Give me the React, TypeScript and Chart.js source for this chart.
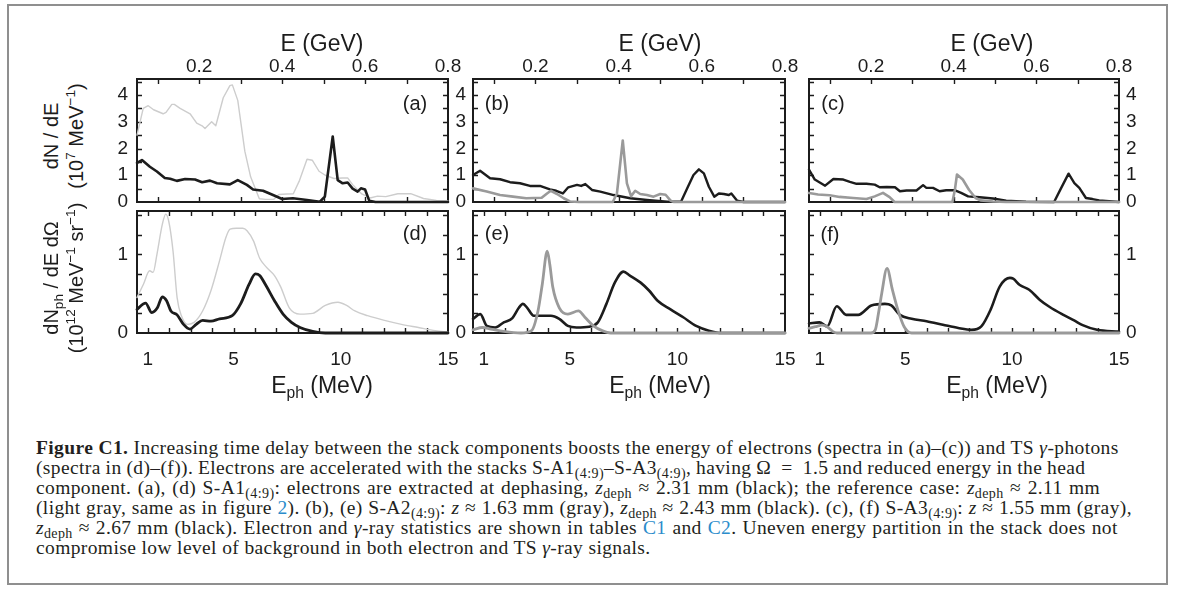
import React, { useEffect, useRef } from "react";
import { Chart, registerables } from "chart.js";
Chart.register(...registerables);

// ---------- tick values / labels ----------
const GEV_TICKS = [0.1, 0.2, 0.3, 0.4, 0.5, 0.6, 0.7, 0.8];
const GEV_LABELS = ["", "0.2", "", "0.4", "", "0.6", "", "0.8"];
const DNDE_TICKS = [0, 0.5, 1, 1.5, 2, 2.5, 3, 3.5, 4, 4.5];
const DNDE_LABELS = ["0", "", "1", "", "2", "", "3", "", "4", ""];
const MEV_TICKS = [1, 2, 3, 4, 5, 6, 7, 8, 9, 10, 11, 12, 13, 14, 15];
const MEV_LABELS = ["1", "", "", "", "5", "", "", "", "", "10", "", "", "", "", "15"];
const PH_TICKS = [0, 0.25, 0.5, 0.75, 1, 1.25, 1.5];
const PH_LABELS = ["0", "", "", "", "1", "", ""];

// ---------- (a) electrons, S-A1 ----------
const aRefE = [0.05, 0.065, 0.077, 0.09, 0.113, 0.12, 0.134, 0.14, 0.154, 0.178, 0.194, 0.207, 0.214, 0.23, 0.24, 0.258, 0.274, 0.28, 0.293, 0.31, 0.324, 0.345, 0.36, 0.38, 0.392, 0.411, 0.427, 0.442, 0.46, 0.473, 0.489, 0.504, 0.525, 0.545, 0.558, 0.57, 0.592, 0.612, 0.63, 0.65, 0.679, 0.71, 0.741, 0.772, 0.8];
const aRefN = [2.5, 3.5, 3.6, 3.45, 3.3, 3.35, 3.65, 3.65, 3.5, 3.3, 2.95, 2.85, 2.75, 3.0, 2.85, 3.9, 4.35, 4.38, 3.8, 1.9, 0.94, 0.12, 0.1, 0.1, 0.28, 0.3, 0.31, 0.81, 1.6, 1.56, 1.15, 1.0, 0.88, 0.9, 0.9, 0.65, 0.3, 0.15, 0.22, 0.2, 0.31, 0.31, 0.13, 0.06, 0.04];
const aBlackE = [0.05, 0.062, 0.081, 0.098, 0.117, 0.13, 0.146, 0.166, 0.19, 0.207, 0.226, 0.243, 0.274, 0.293, 0.315, 0.33, 0.354, 0.378, 0.4, 0.426, 0.46, 0.491, 0.503, 0.522, 0.534, 0.546, 0.558, 0.57, 0.582, 0.59, 0.6, 0.61, 0.625, 0.8];
const aBlackN = [1.46, 1.57, 1.32, 1.14, 0.9, 0.87, 0.79, 0.86, 0.84, 0.74, 0.8, 0.7, 0.66, 0.82, 0.64, 0.47, 0.42, 0.26, 0.11, 0.14, 0.075, 0.01, 0.2, 2.45, 0.82, 0.7, 0.73, 0.5, 0.39, 0.51, 0.47, 0.05, 0, 0];

// ---------- (b) electrons, S-A2 ----------
const bBlackE = [0.05, 0.067, 0.091, 0.115, 0.139, 0.163, 0.187, 0.211, 0.235, 0.25, 0.266, 0.279, 0.3, 0.31, 0.32, 0.336, 0.356, 0.388, 0.428, 0.468, 0.517, 0.55, 0.565, 0.58, 0.593, 0.605, 0.617, 0.63, 0.641, 0.653, 0.665, 0.671, 0.685, 0.7, 0.8];
const bBlackN = [1.01, 1.17, 0.89, 0.85, 0.74, 0.7, 0.6, 0.6, 0.47, 0.42, 0.32, 0.55, 0.64, 0.6, 0.67, 0.45, 0.39, 0.26, 0.14, 0.075, 0.01, 0.01, 0.51, 1.01, 1.22, 1.07, 0.57, 0.2, 0.32, 0.3, 0.26, 0.32, 0.05, 0, 0];
const bGrayE = [0.05, 0.083, 0.115, 0.146, 0.178, 0.215, 0.228, 0.237, 0.252, 0.268, 0.283, 0.305, 0.386, 0.396, 0.41, 0.42, 0.43, 0.44, 0.452, 0.468, 0.484, 0.5, 0.513, 0.525, 0.533, 0.8];
const bGrayN = [0.51, 0.39, 0.26, 0.2, 0.14, 0.16, 0.32, 0.42, 0.3, 0.14, 0.02, 0, 0, 0.32, 2.3, 0.7, 0.22, 0.42, 0.3, 0.26, 0.2, 0.3, 0.27, 0.05, 0, 0];

// ---------- (c) electrons, S-A3 ----------
const cBlackE = [0.05, 0.064, 0.089, 0.109, 0.133, 0.149, 0.165, 0.189, 0.209, 0.221, 0.238, 0.258, 0.27, 0.286, 0.31, 0.326, 0.334, 0.35, 0.366, 0.382, 0.402, 0.418, 0.435, 0.463, 0.495, 0.527, 0.575, 0.643, 0.659, 0.678, 0.692, 0.704, 0.72, 0.736, 0.752, 0.776, 0.8];
const cBlackN = [1.21, 0.84, 0.61, 0.86, 0.84, 0.75, 0.68, 0.68, 0.65, 0.55, 0.56, 0.55, 0.4, 0.43, 0.43, 0.63, 0.53, 0.53, 0.4, 0.44, 0.44, 0.34, 0.21, 0.18, 0.13, 0.05, 0.01, 0, 0.49, 1.06, 0.71, 0.53, 0.15, 0.11, 0.06, 0.03, 0];
const cGrayE = [0.05, 0.072, 0.1, 0.124, 0.157, 0.189, 0.209, 0.229, 0.245, 0.257, 0.397, 0.403, 0.408, 0.422, 0.437, 0.453, 0.465, 0.495, 0.527, 0.8];
const cGrayN = [0.34, 0.28, 0.25, 0.19, 0.15, 0.11, 0.21, 0.34, 0.18, 0, 0, 0.46, 1.03, 0.84, 0.46, 0.15, 0.06, 0.02, 0, 0];

// ---------- (d) photons, S-A1 ----------
const dRefX = [0.5, 0.8, 1.09, 1.25, 1.43, 1.68, 1.84, 1.98, 2.18, 2.37, 2.57, 2.87, 3.16, 3.56, 3.95, 4.35, 4.64, 4.84, 5.14, 5.43, 5.63, 5.93, 6.22, 6.52, 6.91, 7.21, 7.6, 8.1, 8.69, 9.28, 9.87, 10.27, 10.66, 11.25, 12.04, 12.83, 13.62, 14.41, 15];
const dRefY = [0.45, 0.62, 0.79, 0.77, 1.0, 1.38, 1.51, 1.42, 1.04, 0.45, 0.22, 0.11, 0.135, 0.28, 0.54, 0.92, 1.21, 1.32, 1.33, 1.33, 1.3, 1.17, 0.95, 0.84, 0.73, 0.58, 0.32, 0.24, 0.25, 0.35, 0.39, 0.35, 0.28, 0.22, 0.16, 0.11, 0.07, 0.03, 0.01];
const dBlackX = [0.5, 0.9, 1.19, 1.45, 1.68, 1.88, 2.08, 2.37, 2.67, 2.97, 3.26, 3.56, 3.95, 4.35, 4.94, 5.33, 5.73, 6.02, 6.22, 6.52, 6.91, 7.31, 7.7, 8.1, 8.69, 9.28, 15];
const dBlackY = [0.3, 0.38, 0.26, 0.32, 0.46, 0.41, 0.28, 0.23, 0.11, 0.05, 0.11, 0.16, 0.15, 0.18, 0.22, 0.37, 0.62, 0.75, 0.73, 0.6, 0.41, 0.24, 0.135, 0.07, 0.02, 0, 0];

// ---------- (e) photons, S-A2 ----------
const eBlackX = [0.5, 0.84, 1.14, 1.53, 1.93, 2.33, 2.63, 2.82, 3.02, 3.32, 3.72, 4.12, 4.51, 4.91, 5.31, 5.9, 6.3, 6.7, 7.09, 7.49, 7.79, 8.29, 8.68, 9.08, 9.68, 10.27, 10.87, 11.46, 12.06, 15];
const eBlackY = [0.18, 0.24, 0.09, 0.07, 0.135, 0.19, 0.32, 0.37, 0.32, 0.22, 0.22, 0.22, 0.18, 0.09, 0.07, 0.08, 0.135, 0.37, 0.64, 0.78, 0.73, 0.64, 0.54, 0.41, 0.3, 0.2, 0.09, 0.03, 0, 0];
const eGrayX = [0.5, 0.94, 1.33, 1.93, 2.73, 3.22, 3.52, 3.72, 3.95, 4.07, 4.21, 4.51, 4.91, 5.4, 5.7, 6.1, 6.5, 6.9, 15];
const eGrayY = [0.04, 0.07, 0.05, 0.02, 0, 0.03, 0.28, 0.62, 1.04, 0.87, 0.58, 0.32, 0.24, 0.28, 0.2, 0.09, 0.03, 0, 0];

// ---------- (f) photons, S-A3 ----------
const fBlackX = [0.5, 0.99, 1.35, 1.8, 2.24, 2.8, 3.42, 4.05, 4.35, 4.75, 5.3, 6.0, 6.76, 7.48, 8.1, 8.56, 9.0, 9.42, 9.9, 10.05, 10.36, 10.8, 11.3, 11.76, 12.4, 12.9, 13.3, 13.97, 15];
const fBlackY = [0.12, 0.135, 0.084, 0.34, 0.23, 0.23, 0.35, 0.37, 0.35, 0.23, 0.18, 0.15, 0.105, 0.063, 0.04, 0.084, 0.3, 0.59, 0.7, 0.69, 0.61, 0.55, 0.42, 0.33, 0.23, 0.16, 0.1, 0.04, 0.017];
const fGrayX = [0.5, 0.8, 1.1, 1.35, 1.6, 1.8, 3.4, 3.6, 3.75, 3.9, 4.15, 4.4, 4.66, 4.95, 5.3, 15];
const fGrayY = [0.06, 0.08, 0.1, 0.08, 0.02, 0, 0, 0.04, 0.25, 0.5, 0.82, 0.55, 0.29, 0.08, 0, 0];

const BLACK = "#1c1c1c";
const GRAY = "#9a9a9a";
const LIGHT = "#cdcdcd";
const SANS = "'Liberation Sans', Arial, sans-serif";
const SERIF = "'Liberation Serif', 'Times New Roman', serif";
const M = 40;

type Series = { x: number[]; y: number[]; color: string; width: number; order: number };
type PanelCfg = {
  key: string; left: number; top: number; width: number; height: number;
  xMin: number; xMax: number; yMax: number;
  xPos: "top" | "bottom"; yPos: "left" | "right";
  xTicks: number[]; xLabels: string[]; yTicks: number[]; yLabels: string[];
  xPad: number; yPad: number; smooth: boolean; series: Series[];
};

const COLS = [[137, 311], [473, 312], [809, 310]];
const ROW_TOP = [79, 123];
const ROW_BOT = [211, 122];

function topPanel(col: number, yPos: "left" | "right", yPad: number, series: Series[], key: string): PanelCfg {
  return {
    key, left: COLS[col][0], top: ROW_TOP[0], width: COLS[col][1], height: ROW_TOP[1],
    xMin: 0.05, xMax: 0.8, yMax: 4.6, xPos: "top", yPos,
    xTicks: GEV_TICKS, xLabels: GEV_LABELS, yTicks: DNDE_TICKS, yLabels: DNDE_LABELS,
    xPad: 1, yPad, smooth: false, series,
  };
}
function botPanel(col: number, yPos: "left" | "right", yPad: number, series: Series[], key: string): PanelCfg {
  return {
    key, left: COLS[col][0], top: ROW_BOT[0], width: COLS[col][1], height: ROW_BOT[1],
    xMin: 0.5, xMax: 15, yMax: 1.55, xPos: "bottom", yPos,
    xTicks: MEV_TICKS, xLabels: MEV_LABELS, yTicks: PH_TICKS, yLabels: PH_LABELS,
    xPad: 15, yPad, smooth: true, series,
  };
}

const PANELS: PanelCfg[] = [
  topPanel(0, "left", 9, [
    { x: aBlackE, y: aBlackN, color: BLACK, width: 2.6, order: 0 },
    { x: aRefE, y: aRefN, color: LIGHT, width: 1.4, order: 1 },
  ], "a"),
  topPanel(1, "left", 7, [
    { x: bBlackE, y: bBlackN, color: BLACK, width: 2.4, order: 1 },
    { x: bGrayE, y: bGrayN, color: GRAY, width: 2.6, order: 0 },
  ], "b"),
  topPanel(2, "right", 7, [
    { x: cBlackE, y: cBlackN, color: BLACK, width: 2.4, order: 1 },
    { x: cGrayE, y: cGrayN, color: GRAY, width: 2.6, order: 0 },
  ], "c"),
  botPanel(0, "left", 9, [
    { x: dBlackX, y: dBlackY, color: BLACK, width: 2.8, order: 0 },
    { x: dRefX, y: dRefY, color: LIGHT, width: 1.4, order: 1 },
  ], "d"),
  botPanel(1, "left", 7, [
    { x: eBlackX, y: eBlackY, color: BLACK, width: 2.6, order: 1 },
    { x: eGrayX, y: eGrayY, color: GRAY, width: 2.8, order: 0 },
  ], "e"),
  botPanel(2, "right", 7, [
    { x: fBlackX, y: fBlackY, color: BLACK, width: 2.6, order: 1 },
    { x: fGrayX, y: fGrayY, color: GRAY, width: 2.8, order: 0 },
  ], "f"),
];

const framePlugin = {
  id: "frameTicks",
  beforeDatasetsDraw(chart: any) {
    const { ctx, chartArea: a, scales } = chart;
    const tl = 5;
    ctx.save();
    ctx.strokeStyle = BLACK;
    ctx.lineWidth = 1.4;
    ctx.beginPath();
    for (const t of scales.x.ticks) {
      const px = Math.round(scales.x.getPixelForValue(t.value)) + 0.5;
      if (px <= a.left + 2 || px >= a.right - 2) continue;
      ctx.moveTo(px, a.top); ctx.lineTo(px, a.top + tl);
      ctx.moveTo(px, a.bottom); ctx.lineTo(px, a.bottom - tl);
    }
    for (const t of scales.y.ticks) {
      const py = Math.round(scales.y.getPixelForValue(t.value)) + 0.5;
      if (py <= a.top + 2 || py >= a.bottom - 2) continue;
      ctx.moveTo(a.left, py); ctx.lineTo(a.left + tl, py);
      ctx.moveTo(a.right, py); ctx.lineTo(a.right - tl, py);
    }
    ctx.stroke();
    ctx.lineWidth = 2;
    ctx.strokeRect(a.left, a.top, a.right - a.left, a.bottom - a.top);
    ctx.restore();
  },
};

function labeler(ticks: number[], labels: string[]) {
  return (v: number) => {
    const i = ticks.findIndex((t) => Math.abs(t - v) < 1e-6);
    return i >= 0 ? labels[i] : "";
  };
}

function fixSize(kind: "h" | "w") {
  return (s: any) => {
    if (kind === "h") s.height = M; else s.width = M;
    s.paddingLeft = 0; s.paddingRight = 0; s.paddingTop = 0; s.paddingBottom = 0;
  };
}

function Panel({ cfg }: { cfg: PanelCfg }) {
  const ref = useRef<HTMLCanvasElement | null>(null);
  useEffect(() => {
    if (!ref.current) return;
    const xl = labeler(cfg.xTicks, cfg.xLabels);
    const yl = labeler(cfg.yTicks, cfg.yLabels);
    const tickFont = { family: SANS, size: 19 };
    const chart = new Chart(ref.current, {
      type: "line",
      data: {
        datasets: cfg.series.map((s) => ({
          data: s.x.map((v, i) => ({ x: v, y: s.y[i] })),
          borderColor: s.color,
          borderWidth: s.width,
          pointRadius: 0,
          fill: false,
          order: s.order,
          clip: false as any,
          tension: cfg.smooth ? 0.4 : 0,
          cubicInterpolationMode: cfg.smooth ? "monotone" : "default",
          borderJoinStyle: "round",
          borderCapStyle: "round",
        })) as any,
      },
      options: {
        animation: false,
        responsive: false,
        devicePixelRatio: 1,
        events: [],
        layout: {
          padding: {
            left: cfg.yPos === "left" ? 0 : M,
            right: cfg.yPos === "right" ? 0 : M,
            top: cfg.xPos === "top" ? 0 : M,
            bottom: cfg.xPos === "bottom" ? 0 : M,
          },
        },
        plugins: { legend: { display: false }, tooltip: { enabled: false } },
        scales: {
          x: {
            type: "linear", position: cfg.xPos, min: cfg.xMin, max: cfg.xMax, bounds: "data",
            grid: { display: false, drawTicks: false, tickLength: 0 }, border: { display: false },
            afterBuildTicks: (s: any) => { s.ticks = cfg.xTicks.map((v) => ({ value: v })); },
            afterFit: fixSize("h"),
            ticks: {
              autoSkip: false, maxRotation: 0, minRotation: 0, padding: cfg.xPad,
              color: BLACK, font: tickFont, callback: (v: any) => xl(Number(v)),
            },
          },
          y: {
            type: "linear", position: cfg.yPos, min: 0, max: cfg.yMax, bounds: "data",
            grid: { display: false, drawTicks: false, tickLength: 0 }, border: { display: false },
            afterBuildTicks: (s: any) => { s.ticks = cfg.yTicks.map((v) => ({ value: v })); },
            afterFit: fixSize("w"),
            ticks: {
              autoSkip: false, padding: cfg.yPad,
              color: BLACK, font: tickFont, callback: (v: any) => yl(Number(v)),
            },
          },
        } as any,
      },
      plugins: [framePlugin],
    });
    return () => chart.destroy();
  }, [cfg]);
  return (
    <canvas
      ref={ref}
      width={cfg.width + 2 * M}
      height={cfg.height + 2 * M}
      style={{ position: "absolute", left: cfg.left - M, top: cfg.top - M, width: cfg.width + 2 * M, height: cfg.height + 2 * M }}
    />
  );
}

function Txt({ x, y, size, children, center = true, family = SANS }: any) {
  return (
    <div
      style={{
        position: "absolute", left: x, top: y, fontFamily: family, fontSize: size,
        lineHeight: 1, whiteSpace: "nowrap", color: BLACK,
        transform: center ? "translate(-50%, -50%)" : "translateY(-50%)",
      }}
    >
      {children}
    </div>
  );
}

const supS: React.CSSProperties = { fontSize: "0.68em", verticalAlign: "0.6em", lineHeight: 0 };
const subS: React.CSSProperties = { fontSize: "0.68em", verticalAlign: "-0.35em", lineHeight: 0 };

function VTitle({ cx, cy, lines }: any) {
  return (
    <div
      style={{
        position: "absolute", left: cx, top: cy, fontFamily: SANS, fontSize: 20,
        lineHeight: "25px", whiteSpace: "nowrap", textAlign: "center", color: BLACK,
        transform: "translate(-50%, -50%) rotate(-90deg)",
      }}
    >
      {lines.map((l: any, i: number) => <div key={i}>{l}</div>)}
    </div>
  );
}

const capSub: React.CSSProperties = { fontSize: "0.72em", verticalAlign: "-0.3em", lineHeight: 0 };
const LINK = "#2b8ccb";
const WORD_SPACING = [0, -0.4, 1.2, 0.3, 0.7, 0];

function Caption() {
  const lines = [
    <>
      <b>Figure C1.</b> Increasing time delay between the stack components boosts the energy of electrons (spectra in (a)–(c)) and TS <i>γ</i>-photons
    </>,
    <>
      (spectra in (d)–(f)). Electrons are accelerated with the stacks S-A1<span style={capSub}>(4:9)</span>–S-A3<span style={capSub}>(4:9)</span>, having Ω{"\u2002"}={"\u2002"}1.5 and reduced energy in the head
    </>,
    <>
      component. (a), (d) S-A1<span style={capSub}>(4:9)</span>: electrons are extracted at dephasing, <i>z</i><span style={capSub}>deph</span> ≈ 2.31 mm (black); the reference case: <i>z</i><span style={capSub}>deph</span> ≈ 2.11 mm
    </>,
    <>
      (light gray, same as in figure <span style={{ color: LINK }}>2</span>). (b), (e) S-A2<span style={capSub}>(4:9)</span>: <i>z</i> ≈ 1.63 mm (gray), <i>z</i><span style={capSub}>deph</span> ≈ 2.43 mm (black). (c), (f) S-A3<span style={capSub}>(4:9)</span>: <i>z</i> ≈ 1.55 mm (gray),
    </>,
    <>
      <i>z</i><span style={capSub}>deph</span> ≈ 2.67 mm (black). Electron and <i>γ</i>-ray statistics are shown in tables <span style={{ color: LINK }}>C1</span> and <span style={{ color: LINK }}>C2</span>. Uneven energy partition in the stack does not
    </>,
    <>compromise low level of background in both electron and TS <i>γ</i>-ray signals.</>,
  ];
  return (
    <>
      {lines.map((l, i) => (
        <div
          key={i}
          style={{
            position: "absolute", left: 36, top: 438 + i * 20, fontFamily: SERIF, fontSize: 19.5,
            letterSpacing: "0.38px", wordSpacing: WORD_SPACING[i] + "px", lineHeight: "20px",
            whiteSpace: "nowrap", color: "#231f20",
          }}
        >
          {l}
        </div>
      ))}
    </>
  );
}

export default function App() {
  const panelLabels = [
    { t: "(a)", x: 415, y: 103 }, { t: "(b)", x: 497, y: 103 }, { t: "(c)", x: 833, y: 103 },
    { t: "(d)", x: 415, y: 233 }, { t: "(e)", x: 497, y: 233 }, { t: "(f)", x: 830, y: 234 },
  ];
  return (
    <div style={{ position: "absolute", left: 0, top: 0, width: 1182, height: 590, background: "#fff", overflow: "hidden" }}>
      <div style={{ position: "absolute", left: 7, top: 4, width: 1157, height: 577, border: "2px solid #8f8f8f" }} />
      {PANELS.map((p) => <Panel key={p.key} cfg={p} />)}
      {[322, 660, 992].map((x, i) => (
        <Txt key={"gt" + i} x={x} y={43} size={23}>E (GeV)</Txt>
      ))}
      {[322, 660, 997].map((x, i) => (
        <Txt key={"mt" + i} x={x} y={385} size={23}>
          E<span style={subS}>ph</span> (MeV)
        </Txt>
      ))}
      {panelLabels.map((l) => (
        <Txt key={l.t} x={l.x} y={l.y} size={20}>{l.t}</Txt>
      ))}
      <VTitle cx={64} cy={136} lines={["dN / dE", <>(10<span style={supS}>7</span> MeV<span style={supS}>−1</span>)</>]} />
      <VTitle
        cx={64}
        cy={278}
        lines={[
          <>dN<span style={subS}>ph</span> / dE dΩ</>,
          <>(10<span style={supS}>12</span> MeV<span style={supS}>−1</span> sr<span style={supS}>−1</span>)</>,
        ]}
      />
      <Caption />
    </div>
  );
}
